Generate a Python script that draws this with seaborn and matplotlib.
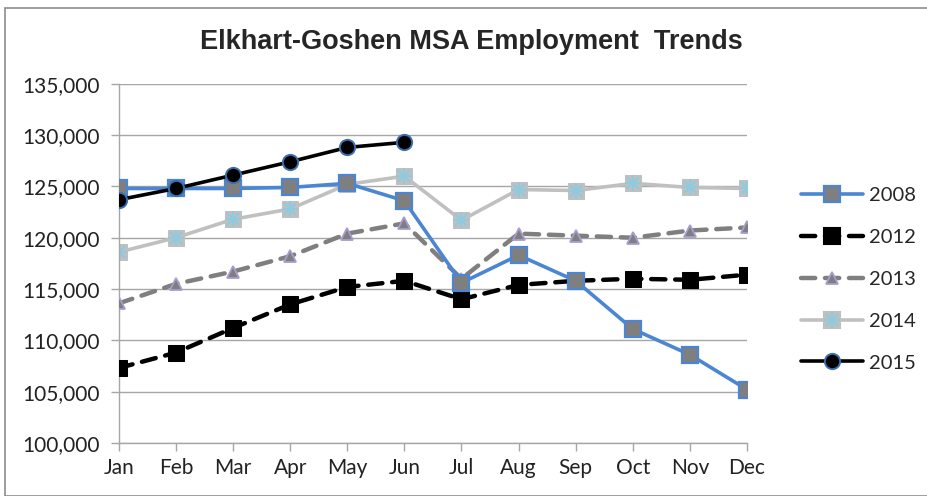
import matplotlib
matplotlib.use("Agg")
import matplotlib.pyplot as plt
import seaborn as sns
from matplotlib.lines import Line2D
from matplotlib.patches import Rectangle
from matplotlib.ticker import FuncFormatter
from matplotlib.legend_handler import HandlerTuple

# Employment data
months = ["Jan", "Feb", "Mar", "Apr", "May", "Jun", "Jul", "Aug", "Sep", "Oct", "Nov", "Dec"]
emp_2008 = [124800, 124800, 124800, 124900, 125300, 123600, 115600, 118300, 115800, 111100, 108600, 105200]
emp_2012 = [107300, 108800, 111200, 113500, 115200, 115800, 114000, 115400, 115800, 116000, 115900, 116400]
emp_2013 = [113600, 115500, 116700, 118200, 120400, 121400, 116000, 120400, 120200, 120000, 120700, 121000]
emp_2014 = [118600, 120000, 121800, 122800, 125200, 126000, 121700, 124700, 124600, 125300, 124900, 124800]
emp_2015 = [123700, 124800, 126100, 127400, 128800, 129300]

sns.set_theme(style="white")
plt.rcParams['font.family'] = ['Lato', 'DejaVu Sans']

fig = plt.figure(figsize=(9.28, 4.96), dpi=100)
ax = fig.add_axes([0.128, 0.107, 0.677, 0.724])

# 2014 - light grey line, grey squares with cyan asterisk
sns.lineplot(x=months, y=emp_2014, ax=ax, color="#c0c0c0", lw=2.6, marker="s",
             markersize=11, markerfacecolor="#c0c0c0", markeredgecolor="#c0c0c0", zorder=2)
ax.plot(months, emp_2014, ls="none", marker="+", markersize=11, mew=1.5, color="#8ecae0", zorder=2.1)
ax.plot(months, emp_2014, ls="none", marker="x", markersize=8, mew=1.5, color="#8ecae0", zorder=2.1)
# 2013 - grey dashed, triangles
sns.lineplot(x=months, y=emp_2013, ax=ax, color="#7f7f7f", lw=3.2, marker="^",
             markersize=8, markerfacecolor="#7f7f7f", markeredgecolor="#a99cd0",
             markeredgewidth=1.3, dashes=(3.2, 2.2), zorder=3)
# 2012 - black dashed, black squares
sns.lineplot(x=months, y=emp_2012, ax=ax, color="black", lw=3.2, marker="s",
             markersize=11, markerfacecolor="black", markeredgecolor="black",
             dashes=(3.2, 2.2), zorder=4)
# 2008 - blue line, grey squares with blue edge
sns.lineplot(x=months, y=emp_2008, ax=ax, color="#4a86d4", lw=2.6, marker="s",
             markersize=11, markerfacecolor="#7f7f7f", markeredgecolor="#4a86d4",
             markeredgewidth=1.6, zorder=5)
# 2015 - black line, black circles with blue edge
sns.lineplot(x=months[:6], y=emp_2015, ax=ax, color="black", lw=2.6, marker="o",
             markersize=11, markerfacecolor="black", markeredgecolor="#3a6fb0",
             markeredgewidth=1.4, zorder=6)

for ln in ax.get_lines():
    ln.set_dash_capstyle("round")

ax.set_xlim(0, 11)
ax.set_ylim(100000, 135000)
ax.set_yticks(range(100000, 135001, 5000))
ax.yaxis.set_major_formatter(FuncFormatter(lambda v, p: f"{int(v):,}"))
ax.grid(axis="y", color="#a6a6a6", lw=1)
ax.grid(axis="x", visible=False)
for s in ["top", "right"]:
    ax.spines[s].set_visible(False)
for s in ["left", "bottom"]:
    ax.spines[s].set_color("#a6a6a6")
    ax.spines[s].set_linewidth(1)
ax.tick_params(axis="both", which="major", length=6, width=1, color="#a6a6a6",
               labelsize=15, labelcolor="#222222", direction="out",
               bottom=True, left=True)
ax.tick_params(axis="x", pad=5)
ax.tick_params(axis="y", pad=8)
ax.set_xlabel("")
ax.set_ylabel("")

fig.text(0.508, 0.915, "Elkhart-Goshen MSA Employment  Trends", ha="center", va="center",
         fontsize=19.5, fontweight="bold", family="Liberation Sans")

# legend
def h(color, marker, ms, mfc, mec, ls="-", mew=1.5):
    return Line2D([], [], color=color, lw=2.6 if ls == "-" else 3.2, ls=ls, marker=marker,
                  markersize=ms, markerfacecolor=mfc, markeredgecolor=mec, markeredgewidth=mew,
                  dash_capstyle="round")

handles = [
    h("#4a86d4", "s", 11, "#7f7f7f", "#4a86d4", mew=1.6),
    h("black", "s", 11, "black", "black", ls=(0, (3.2, 2.2))),
    h("#7f7f7f", "^", 8, "#7f7f7f", "#a99cd0", ls=(0, (3.2, 2.2)), mew=1.3),
    (h("#c0c0c0", "s", 11, "#c0c0c0", "#c0c0c0"),
     Line2D([], [], ls="none", marker="+", markersize=11, mew=1.5, color="#8ecae0"),
     Line2D([], [], ls="none", marker="x", markersize=8, mew=1.5, color="#8ecae0")),
    h("black", "o", 11, "black", "#3a6fb0", mew=1.4),
]
labels = ["2008", "2012", "2013", "2014", "2015"]
fig.legend(handles, labels, loc="center left", bbox_to_anchor=(0.852, 0.437),
           frameon=False, fontsize=14.5, handlelength=3.1, labelspacing=1.23,
           handletextpad=0.3, borderpad=0,
           handler_map={tuple: HandlerTuple(ndivide=1, pad=0)})

# chart border
fig.patches.append(Rectangle((0.005, 0.0), 0.995, 0.983, transform=fig.transFigure,
                             fill=False, edgecolor="#8c8c8c", lw=1.2))

fig.savefig("out.png", dpi=100)
